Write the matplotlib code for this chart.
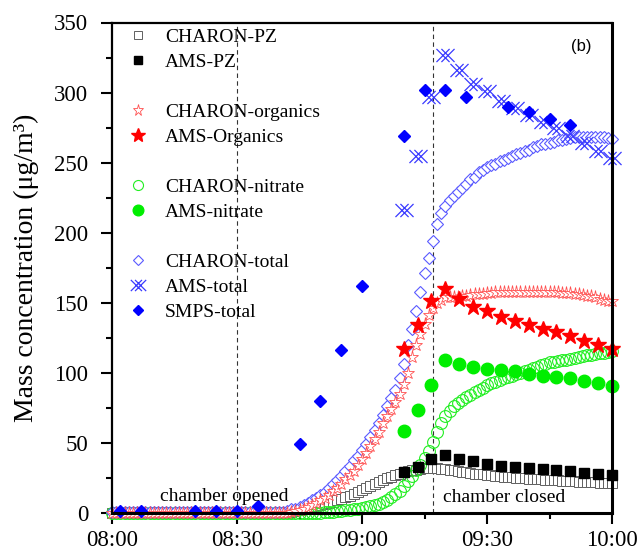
import numpy as np
import matplotlib
matplotlib.use("Agg")
import matplotlib.pyplot as plt
from matplotlib.lines import Line2D
from matplotlib.path import Path

plt.rcParams['font.family'] = ['Liberation Serif', 'DejaVu Serif']

# ---------------- data (minutes after 08:00) ----------------
charon_time = list(range(0, 121))
charon_total = [0.5, 0.5, 0.5, 0.5, 0.5, 0.5, 0.5, 0.5, 0.5, 0.5,
                0.5, 0.5, 0.5, 0.5, 0.5, 0.5, 0.5, 0.5, 0.5, 0.5,
                0.5, 0.5, 0.5, 0.5, 0.5, 0.5, 0.5, 0.5, 0.5, 0.5,
                0.5, 0.5, 0.5, 0.5, 0.5, 0.5, 0.5, 0.5, 0.5, 0.5,
                0.5, 1, 1.5, 2.5, 3.2, 4, 5.5, 7, 9, 11,
                13, 15, 17.5, 20.5, 23.5, 26.5, 30, 33.5, 37.5, 41,
                45, 49.5, 54, 59, 64, 70, 76, 82, 88, 96,
                106, 120, 131, 144, 158, 171, 182, 194, 206, 214,
                219, 223, 226, 229, 232, 235, 238, 240, 243, 245,
                247, 248, 249, 251, 252, 253, 255, 256, 257, 258,
                259, 261, 262, 263, 263.5, 264, 265, 266, 266.5, 267,
                267.5, 268, 268, 268.5, 268.5, 268.5, 268.5, 268, 268, 267.5,
                267]
charon_org = [0.3, 0.3, 0.3, 0.3, 0.3, 0.3, 0.3, 0.3, 0.3, 0.3,
              0.3, 0.3, 0.3, 0.3, 0.3, 0.3, 0.3, 0.3, 0.3, 0.3,
              0.3, 0.3, 0.3, 0.3, 0.3, 0.3, 0.3, 0.3, 0.3, 0.3,
              0.3, 0.3, 0.3, 0.3, 0.3, 0.3, 0.3, 0.3, 0.3, 0.3,
              0.3, 0.3, 0.3, 1, 1.5, 2, 3, 4, 5.5, 7,
              9, 11, 13, 15.5, 18, 21, 24, 27, 30, 34,
              38.5, 43, 48, 53, 58, 64, 69, 74, 79, 85,
              92, 100, 111, 120, 128, 135, 141, 146, 150, 152,
              154, 154, 154, 154, 154.5, 155, 155.5, 156, 156, 156.5,
              157, 157, 157.5, 157.5, 158, 158, 158, 158, 158, 158,
              158, 158, 158, 158, 158, 158, 157.5, 157.5, 157, 157,
              157, 156.5, 156, 155.5, 155, 154.5, 154, 153, 152, 151.5,
              151]
charon_nit = [0.2, 0.2, 0.2, 0.2, 0.2, 0.2, 0.2, 0.2, 0.2, 0.2,
              0.2, 0.2, 0.2, 0.2, 0.2, 0.2, 0.2, 0.2, 0.2, 0.2,
              0.2, 0.2, 0.2, 0.2, 0.2, 0.2, 0.2, 0.2, 0.2, 0.2,
              0.2, 0.2, 0.2, 0.2, 0.2, 0.2, 0.2, 0.2, 0.2, 0.2,
              0.2, 0.2, 0.2, 0.2, 0.2, 0.2, 0.2, 0.2, 0.2, 0.2,
              0.2, 0.5, 0.8, 1, 1.3, 1.7, 2, 2.3, 2.7, 3,
              3.5, 4, 4.7, 5.5, 6.5, 7.8, 9.5, 11.5, 13.5, 16,
              19, 22.5, 26.5, 30.5, 34.5, 39, 44, 51, 58, 64,
              69, 73, 76, 78.5, 80.5, 82.5, 84.5, 86, 87.5, 89,
              91, 92.5, 93.5, 95, 96, 97, 98, 99, 100, 101,
              102, 103.5, 104.5, 105.5, 106.5, 107.5, 108, 108.5, 109, 109.5,
              110, 110.5, 111, 111.8, 112.5, 113, 113.5, 114, 114.5, 115,
              115.5]
charon_pz = [0.3, 0.3, 0.3, 0.3, 0.3, 0.3, 0.3, 0.3, 0.3, 0.3,
             0.3, 0.3, 0.3, 0.3, 0.3, 0.3, 0.3, 0.3, 0.3, 0.3,
             0.3, 0.3, 0.3, 0.3, 0.3, 0.3, 0.3, 0.3, 0.3, 0.3,
             0.3, 0.3, 0.3, 0.3, 0.3, 0.3, 0.3, 0.3, 0.3, 0.3,
             0.3, 0.3, 0.3, 0.8, 1.2, 1.8, 2.5, 3.2, 4, 4.8,
             5.5, 6.2, 7, 8, 9, 10, 11.2, 12.4, 13.6, 15,
             16.5, 18, 19.5, 21, 22, 23.5, 25, 26, 27, 28,
             29, 30, 30.5, 31, 31.5, 31.8, 32, 32, 31.8, 31.5,
             31.2, 31, 30.5, 30, 29.5, 29, 28.5, 28, 27.8, 27.5,
             27.2, 27, 26.6, 26.3, 26, 25.7, 25.5, 25.3, 25, 24.8,
             24.6, 24.4, 24.2, 24, 23.8, 23.6, 23.4, 23.2, 23, 22.9,
             22.7, 22.5, 22.4, 22.2, 22.1, 22, 21.8, 21.7, 21.6, 21.5,
             21.4]

ams_time = [70, 73.33, 76.67, 80, 83.33, 86.67, 90, 93.33, 96.67, 100,
            103.33, 106.67, 110, 113.33, 116.67, 120]
ams_pz = [29.3, 32.9, 38.3, 41.2, 38.3, 36.9, 35.3, 33.6, 32.9, 32.2,
          31.2, 30.5, 29.8, 28.8, 28.1, 27.4]
ams_org = [117, 134, 151, 160, 153, 147, 144, 140, 137, 134,
           131, 129, 126, 123, 120, 117]
ams_nit = [58.6, 73.4, 91.5, 109, 106, 104, 103, 102, 101, 99.5,
           98, 97, 96, 94, 93, 90.5]
ams_total = [216, 255, 297, 327, 316, 306, 301, 294, 289, 284,
             279, 275, 269, 264, 258, 253]

smps_time = [2, 7, 20, 25, 30, 35, 45, 50, 55, 60, 70, 75, 80, 85, 95, 100, 105, 110]
smps_total = [1.5, 1.3, 1.5, 1.5, 1.3, 5, 49, 80, 116, 162, 269, 302, 302, 297,
              290, 286, 281, 277]

event_times = [30, 77]
event_labels = ["chamber opened", "chamber closed"]
xtick_pos = [0, 30, 60, 90, 120]
xtick_labels = ["08:00", "08:30", "09:00", "09:30", "10:00"]

# ---------------- figure ----------------
fig = plt.figure(figsize=(6.43, 5.56), dpi=100)
ax = fig.add_axes([112/643, 1-513/556, 500/643, 490.5/556])

# custom "crossed" marker for AMS-total (two overlapping X's)
v = [(-0.62, -0.45), (0.28, 0.45), (-0.62, 0.45), (0.28, -0.45),
     (-0.28, -0.45), (0.62, 0.45), (-0.28, 0.45), (0.62, -0.45)]
c = [Path.MOVETO, Path.LINETO] * 4
xx_marker = Path(v, c)

h_cpz, = ax.plot(charon_time, charon_pz, 's', ms=6.5, mfc='white', mec='#606060', mew=0.7,
                 ls='none', clip_on=False, label='CHARON-PZ')
h_cnit, = ax.plot(charon_time, charon_nit, 'o', ms=8.5, mfc='none', mec='#22ee22', mew=0.8,
                  ls='none', clip_on=False, label='CHARON-nitrate')
h_ctot, = ax.plot(charon_time, charon_total, 'D', ms=6.5, mfc='white', mec='#5a5aff', mew=0.8,
                  ls='none', clip_on=False, label='CHARON-total')
h_corg, = ax.plot(charon_time, charon_org, '*', ms=9.5, mfc='white', mec='#ff5050', mew=0.6,
                  ls='none', clip_on=False, label='CHARON-organics')
h_apz, = ax.plot(ams_time, ams_pz, 's', ms=7.5, mfc='black', mec='black',
                 ls='none', clip_on=False, label='AMS-PZ')
h_anit, = ax.plot(ams_time, ams_nit, 'o', ms=9, mfc='#00ee00', mec='#00ee00',
                  ls='none', clip_on=False, label='AMS-nitrate')
h_aorg, = ax.plot(ams_time, ams_org, '*', ms=12, mfc='#ff0000', mec='#ff0000',
                  ls='none', clip_on=False, label='AMS-Organics')
h_atot, = ax.plot(ams_time, ams_total, ls='none', marker=xx_marker, ms=13, mfc='none',
                  mec='#3a3aff', mew=0.9, clip_on=False, label='AMS-total')
h_smps, = ax.plot(smps_time, smps_total, 'D', ms=6.5, mfc='#0000ff', mec='#0000ff',
                  ls='none', clip_on=False, label='SMPS-total')

for t in event_times:
    ax.axvline(t, color='#333333', ls=(0, (4, 3)), lw=0.8, zorder=0)

ax.text(27, 5.5, event_labels[0], ha='center', va='bottom', fontsize=14)
ax.text(79.4, 5, event_labels[1], ha='left', va='bottom', fontsize=14)
ax.text(0.938, 0.952, "(b)", transform=ax.transAxes, ha='center', va='center',
        fontsize=12, family=['Liberation Sans', 'DejaVu Sans'])

ax.set_xlim(0, 120)
ax.set_ylim(0, 350)
ax.set_xticks(xtick_pos)
ax.set_xticklabels(xtick_labels)
ax.set_xticks([15, 45, 75, 105], minor=True)
ax.set_yticks(np.arange(0, 351, 50))
ax.set_yticks(np.arange(25, 350, 50), minor=True)
ax.tick_params(which='major', direction='out', length=8, width=1.5, labelsize=16.5, pad=4)
ax.tick_params(axis='y', which='major', pad=9)
ax.tick_params(which='minor', direction='out', length=4.5, width=1.5)
for s in ax.spines.values():
    s.set_linewidth(1.6)
ax.spines['bottom'].set_linewidth(2.2)
ax.spines['right'].set_linewidth(2.2)

ax.set_ylabel("Mass concentration (μg/m³)", fontsize=20, labelpad=11)

blank = Line2D([], [], ls='none', marker=None)
handles = [h_cpz, h_apz, blank, h_corg, h_aorg, blank, h_cnit, h_anit, blank,
           h_ctot, h_atot, h_smps]
labels = ['CHARON-PZ', 'AMS-PZ', '', 'CHARON-organics', 'AMS-Organics', '',
          'CHARON-nitrate', 'AMS-nitrate', '', 'CHARON-total', 'AMS-total', 'SMPS-total']
leg = ax.legend(handles, labels, loc='upper left', bbox_to_anchor=(0.024, 0.996),
                frameon=False, fontsize=14, handlelength=1.0, handletextpad=0.9,
                labelspacing=0.38, borderpad=0.2, borderaxespad=0, markerscale=0.85)

fig.savefig("out.png", dpi=100)
